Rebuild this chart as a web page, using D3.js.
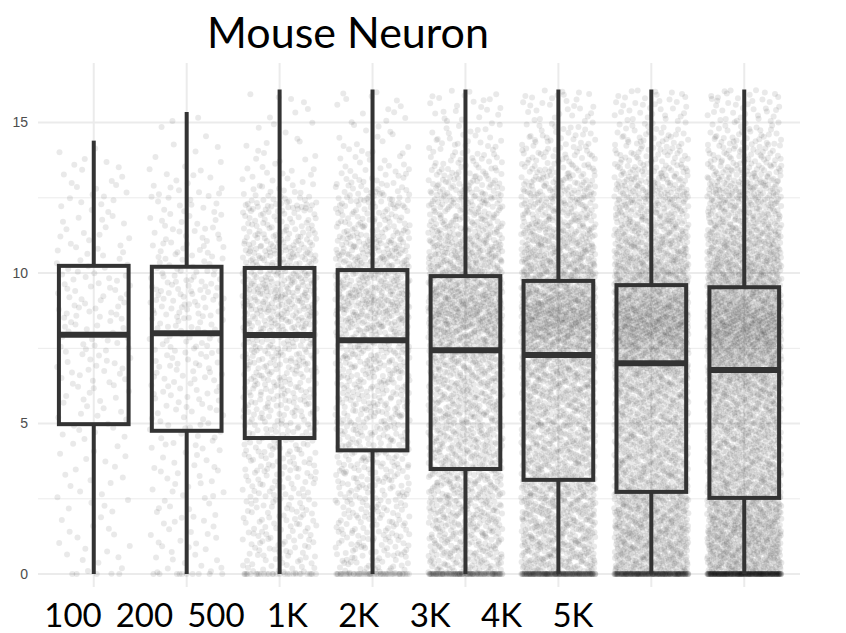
<!DOCTYPE html>
<html lang="en">
<head>
<meta charset="UTF-8">
<title>Mouse Neuron</title>
<style>
    body { margin: 0; background: #fff; }
    svg { display: block; }
    .grid line { stroke: #ebebeb; }
    .ytick { font-family: "Liberation Sans", Arial, sans-serif; font-size: 14px; fill: #4d4d4d; }
    .xlab { font-family: Lato, "Open Sans", sans-serif; font-size: 33px; fill: #000; }
    .title { font-family: Lato, "Open Sans", sans-serif; font-size: 43px; fill: #000; }
</style>
</head>
<body>
<svg width="846" height="633"></svg>
<script src="https://d3js.org/d3.v7.min.js"></script>
<script>
    // sample-size groups
    const labels = ["100", "200", "500", "1K", "2K", "3K", "4K", "5K"];
    const whiskerLow = [0, 0, 0, 0, 0, 0, 0, 0];
    const q1 = [4.98, 4.76, 4.52, 4.11, 3.49, 3.13, 2.73, 2.53];
    const median = [7.95, 8.0, 7.94, 7.77, 7.44, 7.28, 7.0, 6.78];
    const q3 = [10.24, 10.21, 10.17, 10.1, 9.9, 9.74, 9.6, 9.53];
    const whiskerHigh = [14.4, 15.35, 16.1, 16.1, 16.1, 16.1, 16.1, 16.1];
    // rough shape of the jittered cloud (estimated from its density)
    const p90 = [12.4, 12.2, 11.9, 12.0, 12.1, 12.1, 12.1, 12.1];
    const p98 = [13.8, 14.0, 13.9, 14.2, 14.4, 14.5, 14.5, 14.5];
    const zeroShare = [0.02, 0.03, 0.03, 0.04, 0.05, 0.06, 0.06, 0.07];
    const pointCount = [200, 320, 900, 1150, 1900, 2400, 2800, 3200];
    const yTicks = [0, 5, 10, 15];
    const yMinor = [2.5, 7.5, 12.5];

    const svg = d3.select("svg");
    const plotLeft = 38, plotRight = 800, plotTop = 63, plotBottom = 587;

    const x = d3.scalePoint().domain(labels).range([plotLeft, plotRight]).padding(0.6);
    const y = d3.scaleLinear().domain([-0.43, 16.98]).range([plotBottom, plotTop]);
    const step = x.step();
    const boxW = step * 0.75;

    // grid
    const grid = svg.append("g").attr("class", "grid");
    grid.selectAll(".minor").data(yMinor).join("line")
        .attr("x1", plotLeft).attr("x2", plotRight)
        .attr("y1", d => y(d)).attr("y2", d => y(d))
        .attr("stroke-width", 1);
    grid.selectAll(".major").data(yTicks).join("line")
        .attr("x1", plotLeft).attr("x2", plotRight)
        .attr("y1", d => y(d)).attr("y2", d => y(d))
        .attr("stroke-width", 2);
    grid.selectAll(".vert").data(labels).join("line")
        .attr("x1", d => x(d)).attr("x2", d => x(d))
        .attr("y1", plotTop).attr("y2", plotBottom)
        .attr("stroke-width", 2);

    // jittered cloud: deterministic Halton placement, values follow a smooth
    // (monotone cubic) quantile curve through each group's read quantiles
    function halton(i, b) {
        let f = 1, r = 0;
        while (i > 0) { f /= b; r += f * (i % b); i = Math.floor(i / b); }
        return r;
    }
    function monotone(xs, ys) {
        const n = xs.length, d = [], m = [];
        for (let k = 0; k < n - 1; k++) d.push((ys[k + 1] - ys[k]) / (xs[k + 1] - xs[k]));
        m[0] = d[0]; m[n - 1] = d[n - 2];
        for (let k = 1; k < n - 1; k++) m[k] = (d[k - 1] + d[k]) / 2;
        for (let k = 0; k < n - 1; k++) {
            const a = m[k] / d[k], b = m[k + 1] / d[k], s = a * a + b * b;
            if (s > 9) { const t = 3 / Math.sqrt(s); m[k] = t * a * d[k]; m[k + 1] = t * b * d[k]; }
        }
        return u => {
            let k = d3.bisectRight(xs, u) - 1;
            k = Math.max(0, Math.min(n - 2, k));
            const h = xs[k + 1] - xs[k], t = (u - xs[k]) / h;
            const t2 = t * t, t3 = t2 * t;
            return (2 * t3 - 3 * t2 + 1) * ys[k] + (t3 - 2 * t2 + t) * h * m[k]
                + (-2 * t3 + 3 * t2) * ys[k + 1] + (t3 - t2) * h * m[k + 1];
        };
    }
    const points = [];
    labels.forEach((lab, k) => {
        const z = zeroShare[k];
        const quant = monotone(
            [z, 0.25, 0.5, 0.75, 0.9, 0.98, 1],
            [whiskerLow[k], q1[k], median[k], q3[k], p90[k], p98[k], whiskerHigh[k]]);
        for (let i = 0; i < pointCount[k]; i++) {
            const idx = i + 1 + 211 * k;
            const u = halton(idx, 3);
            points.push({lab, jx: halton(idx, 2), v: u < z ? whiskerLow[k] : quant(u)});
        }
    });
    svg.append("g").selectAll("circle").data(points).join("circle")
        .attr("cx", d => x(d.lab) + (d.jx - 0.5) * 0.8 * step)
        .attr("cy", d => y(d.v))
        .attr("r", 3)
        .attr("fill", "#000")
        .attr("fill-opacity", 0.085);

    // boxes
    const boxes = svg.append("g")
        .selectAll("g").data(labels).join("g")
        .attr("stroke", "#333333")
        .attr("fill", "none");
    boxes.append("line")
        .attr("x1", d => x(d)).attr("x2", d => x(d))
        .attr("y1", (d, i) => y(q3[i])).attr("y2", (d, i) => y(whiskerHigh[i]))
        .attr("stroke-width", 4);
    boxes.append("line")
        .attr("x1", d => x(d)).attr("x2", d => x(d))
        .attr("y1", (d, i) => y(q1[i])).attr("y2", (d, i) => y(whiskerLow[i]))
        .attr("stroke-width", 4);
    boxes.append("rect")
        .attr("x", d => x(d) - boxW / 2)
        .attr("width", boxW)
        .attr("y", (d, i) => y(q3[i]))
        .attr("height", (d, i) => y(q1[i]) - y(q3[i]))
        .attr("stroke-width", 4);
    boxes.append("line")
        .attr("x1", d => x(d) - boxW / 2).attr("x2", d => x(d) + boxW / 2)
        .attr("y1", (d, i) => y(median[i])).attr("y2", (d, i) => y(median[i]))
        .attr("stroke-width", 6);

    // y tick labels
    svg.append("g").selectAll("text").data(yTicks).join("text")
        .attr("class", "ytick")
        .attr("x", 28)
        .attr("y", d => y(d))
        .attr("dy", "0.35em")
        .attr("text-anchor", "end")
        .text(d => d);

    // hand-placed sample size labels under the plot
    const xl = d3.scalePoint().domain(labels).range([73, 573]);
    svg.append("g").selectAll("text").data(labels).join("text")
        .attr("class", "xlab")
        .attr("x", d => xl(d))
        .attr("y", 627)
        .attr("text-anchor", "middle")
        .text(d => d);

    svg.append("text")
        .attr("class", "title")
        .attr("x", 348)
        .attr("y", 48)
        .attr("text-anchor", "middle")
        .text("Mouse Neuron");
</script>
</body>
</html>
